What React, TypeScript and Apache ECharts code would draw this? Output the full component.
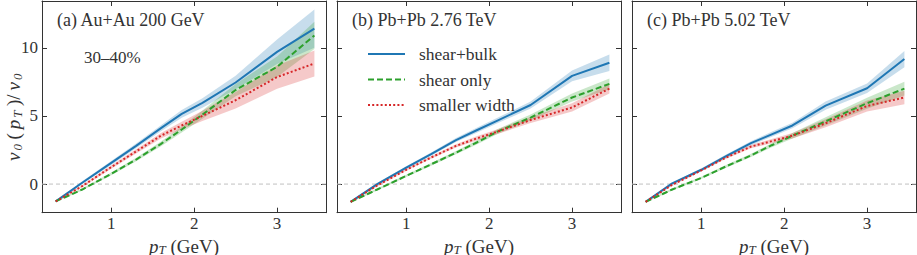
import React, { useEffect, useRef } from "react";
import * as echarts from "echarts";

// transverse momentum grid (GeV)
const pT = [0.33, 0.65, 1.0, 1.3, 1.6, 1.85, 2.1, 2.5, 3.0, 3.45];

// (a) Au+Au 200 GeV
const auBulk = [-1.27, 0.1, 1.55, 2.8, 4.1, 5.15, 5.95, 7.45, 9.7, 11.4];
const auBulkErr = [0.05, 0.1, 0.15, 0.18, 0.22, 0.28, 0.35, 0.5, 0.9, 1.4];
const auShear = [-1.27, -0.4, 0.75, 1.8, 2.95, 4.0, 5.1, 6.9, 8.6, 10.9];
const auShearErr = [0.05, 0.08, 0.1, 0.13, 0.17, 0.22, 0.3, 0.45, 0.75, 1.0];
const auSmall = [-1.27, -0.15, 1.25, 2.4, 3.55, 4.3, 5.0, 6.15, 7.85, 8.85];
const auSmallErr = [0.05, 0.08, 0.12, 0.16, 0.2, 0.28, 0.38, 0.6, 0.85, 0.95];

// (b) Pb+Pb 2.76 TeV
const pb2Bulk = [-1.3, 0.0, 1.2, 2.2, 3.23, 3.95, 4.66, 5.8, 7.94, 8.9];
const pb2BulkErr = [0.05, 0.08, 0.1, 0.12, 0.15, 0.18, 0.2, 0.25, 0.4, 0.6];
const pb2Shear = [-1.3, -0.4, 0.6, 1.45, 2.3, 3.05, 3.85, 4.88, 6.35, 7.35];
const pb2ShearErr = [0.05, 0.07, 0.08, 0.1, 0.12, 0.15, 0.18, 0.22, 0.3, 0.4];
const pb2Small = [-1.3, -0.1, 1.05, 1.95, 2.8, 3.35, 3.85, 4.7, 5.62, 7.0];
const pb2SmallErr = [0.05, 0.07, 0.08, 0.1, 0.12, 0.15, 0.18, 0.22, 0.3, 0.35];

// (c) Pb+Pb 5.02 TeV
const pb5Bulk = [-1.3, 0.05, 1.05, 2.05, 3.0, 3.65, 4.3, 5.75, 7.03, 9.17];
const pb5BulkErr = [0.05, 0.07, 0.1, 0.12, 0.15, 0.18, 0.2, 0.3, 0.35, 0.6];
const pb5Shear = [-1.3, -0.4, 0.45, 1.3, 2.1, 2.85, 3.55, 4.6, 5.93, 7.0];
const pb5ShearErr = [0.05, 0.07, 0.08, 0.1, 0.12, 0.15, 0.2, 0.3, 0.4, 0.5];
const pb5Small = [-1.3, -0.05, 1.0, 1.95, 2.75, 3.15, 3.55, 4.46, 5.73, 6.35];
const pb5SmallErr = [0.05, 0.07, 0.08, 0.1, 0.12, 0.15, 0.2, 0.3, 0.4, 0.5];

const xTicks = [1, 2, 3];
const yTicks = [0, 5, 10];
const zeroLevel = 0;
const seriesNames = ["shear+bulk", "shear only", "smaller width"];
const panelTitles = ["(a) Au+Au 200 GeV", "(b) Pb+Pb 2.76 TeV", "(c) Pb+Pb 5.02 TeV"];
const centralityLabel = "30–40%";

const panels = [
  { lines: [auBulk, auShear, auSmall], errs: [auBulkErr, auShearErr, auSmallErr] },
  { lines: [pb2Bulk, pb2Shear, pb2Small], errs: [pb2BulkErr, pb2ShearErr, pb2SmallErr] },
  { lines: [pb5Bulk, pb5Shear, pb5Small], errs: [pb5BulkErr, pb5ShearErr, pb5SmallErr] },
];

const FONT = "Liberation Serif";
const TXT = "#333";
const AX = "#333";
const colors = ["#1f77b4", "#2ca02c", "#d62728"];
const bandColors = ["rgba(31,119,180,0.25)", "rgba(44,160,44,0.25)", "rgba(214,39,40,0.25)"];
const dashes: any[] = ["solid", [6, 3], [2, 2.2]];
const ZERO_COLOR = "#c0c0c0";

const X_MIN = 0.165;
const X_MAX = 3.59;
const Y_MIN = -2.1;
const Y_MAX = 13.43;
const lefts = [42, 337, 632];
const W = 284;
const FS = 17;
const FS_TITLE = 18;
const FS_NAME = 19;

// x-axis title (pT (GeV))
const richX = {
  i: { fontFamily: FONT, fontStyle: "italic", fontSize: FS_NAME, color: TXT, lineHeight: 20 },
  sub: { fontFamily: FONT, fontStyle: "italic", fontSize: 13, color: TXT, lineHeight: 12, verticalAlign: "bottom" },
  n: { fontFamily: FONT, fontSize: FS_NAME, color: TXT, lineHeight: 20 },
};
// y-axis title (v0(pT)/v0), math-like spacing
const richY = {
  i: { fontFamily: FONT, fontStyle: "italic", fontSize: FS_NAME, color: TXT, lineHeight: 22, padding: [0, 2, 0, 2] },
  sub: { fontFamily: FONT, fontStyle: "italic", fontSize: 13, color: TXT, lineHeight: 13, verticalAlign: "bottom", padding: [0, 2.5, 0, 0] },
  n: { fontFamily: FONT, fontSize: FS_NAME, color: TXT, lineHeight: 22, padding: [0, 2, 0, 2] },
};

function buildOption() {
  const grid: any[] = [];
  const xAxis: any[] = [];
  const yAxis: any[] = [];
  const series: any[] = [];
  const axisLine = { show: true, onZero: false, lineStyle: { color: AX, width: 1 } };
  panels.forEach((p, gi) => {
    grid.push({ left: lefts[gi], width: W, top: 1, bottom: 42.3, containLabel: false, outerBoundsMode: "none" });
    xAxis.push({
      type: "value", gridIndex: gi, position: "bottom", min: X_MIN, max: X_MAX,
      axisLine,
      axisTick: { show: true, inside: true, length: 5, customValues: xTicks, lineStyle: { color: AX } },
      axisLabel: { show: true, customValues: xTicks, margin: 2, fontSize: FS, fontFamily: FONT, color: TXT },
      splitLine: { show: false },
      name: "{i|p}{sub|T}{n| (GeV)}",
      nameLocation: "middle", nameGap: 19,
      nameTextStyle: { fontFamily: FONT, fontSize: FS_NAME, color: TXT, rich: richX },
    });
    xAxis.push({
      type: "value", gridIndex: gi, position: "top", min: X_MIN, max: X_MAX,
      axisLine,
      axisTick: { show: true, inside: true, length: 5, customValues: xTicks, lineStyle: { color: AX } },
      axisLabel: { show: false },
      splitLine: { show: false },
    });
    yAxis.push({
      type: "value", gridIndex: gi, position: "left", min: Y_MIN, max: Y_MAX,
      axisLine,
      axisTick: { show: true, inside: true, length: 5, customValues: yTicks, lineStyle: { color: AX } },
      axisLabel: { show: gi === 0, customValues: yTicks, margin: 4, fontSize: FS, fontFamily: FONT, color: TXT },
      splitLine: { show: false },
    });
    yAxis.push({
      type: "value", gridIndex: gi, position: "right", min: Y_MIN, max: Y_MAX,
      axisLine,
      axisTick: { show: true, inside: true, length: 5, customValues: yTicks, lineStyle: { color: AX } },
      axisLabel: { show: false },
      splitLine: { show: false },
    });
    const xi = gi * 2;
    const yi = gi * 2;
    // zero reference line
    series.push({
      type: "line",
      xAxisIndex: xi, yAxisIndex: yi,
      color: ZERO_COLOR,
      data: [[X_MIN, zeroLevel], [X_MAX, zeroLevel]],
      symbol: "none", showSymbol: false, silent: true, z: 0,
      itemStyle: { color: ZERO_COLOR },
      lineStyle: { color: ZERO_COLOR, width: 1, type: [4, 3] },
    });
    // uncertainty bands
    p.lines.forEach((ys, k) => {
      const err = p.errs[k];
      series.push({
        type: "custom",
        xAxisIndex: xi, yAxisIndex: yi,
        silent: true,
        z: 1,
        data: [[pT[0], ys[0]]],
        renderItem: (_params: any, api: any) => {
          const pts: number[][] = [];
          for (let i = 0; i < pT.length; i++) pts.push(api.coord([pT[i], ys[i] + err[i]]));
          for (let i = pT.length - 1; i >= 0; i--) pts.push(api.coord([pT[i], ys[i] - err[i]]));
          return { type: "polygon", shape: { points: pts }, style: { fill: bandColors[k] } };
        },
      });
    });
    // central lines
    p.lines.forEach((ys, k) => {
      series.push({
        type: "line",
        name: seriesNames[k],
        xAxisIndex: xi, yAxisIndex: yi,
        data: pT.map((x, i) => [x, ys[i]]),
        symbol: "none",
        showSymbol: false,
        z: 3,
        lineStyle: { color: colors[k], width: 2, type: dashes[k] },
        itemStyle: { color: colors[k] },
        silent: true,
      });
    });
  });

  const graphic: any[] = [
    {
      type: "text", x: 13, y: 117, rotation: Math.PI / 2,
      style: {
        text: "{i|v}{sub|0}{n|(}{i|p}{sub|T}{n|)/}{i|v}{sub|0}",
        rich: richY, align: "center", verticalAlign: "middle",
        fontFamily: FONT, fontSize: FS_NAME, fill: TXT,
      },
    },
    { type: "text", x: 57, y: 20, style: { text: panelTitles[0], fontFamily: FONT, fontSize: FS_TITLE, fill: TXT, verticalAlign: "middle" } },
    { type: "text", x: 84, y: 57, style: { text: centralityLabel, fontFamily: FONT, fontSize: FS, fill: TXT, verticalAlign: "middle" } },
    { type: "text", x: 352, y: 20, style: { text: panelTitles[1], fontFamily: FONT, fontSize: FS_TITLE, fill: TXT, verticalAlign: "middle" } },
    { type: "text", x: 647, y: 20, style: { text: panelTitles[2], fontFamily: FONT, fontSize: FS_TITLE, fill: TXT, verticalAlign: "middle" } },
  ];

  return {
    animation: false,
    backgroundColor: "#ffffff",
    textStyle: { fontFamily: FONT },
    grid, xAxis, yAxis, series, graphic,
    legend: {
      data: seriesNames,
      orient: "vertical",
      left: 362, top: 40,
      padding: 5,
      itemWidth: 37, itemHeight: 14, itemGap: 7.5,
      selectedMode: false,
      itemStyle: { opacity: 0 },
      textStyle: { fontFamily: FONT, fontSize: 17.5, color: TXT, lineHeight: 14, padding: [0, 0, 0, 9] },
    },
  };
}

export default function App() {
  const ref = useRef<HTMLDivElement>(null);
  useEffect(() => {
    document.body.style.margin = "0";
    if (!ref.current) return;
    const chart = echarts.init(ref.current, undefined, { renderer: "svg" });
    chart.setOption(buildOption() as any);
    return () => chart.dispose();
  }, []);
  return <div ref={ref} style={{ width: 917, height: 255 }} />;
}
